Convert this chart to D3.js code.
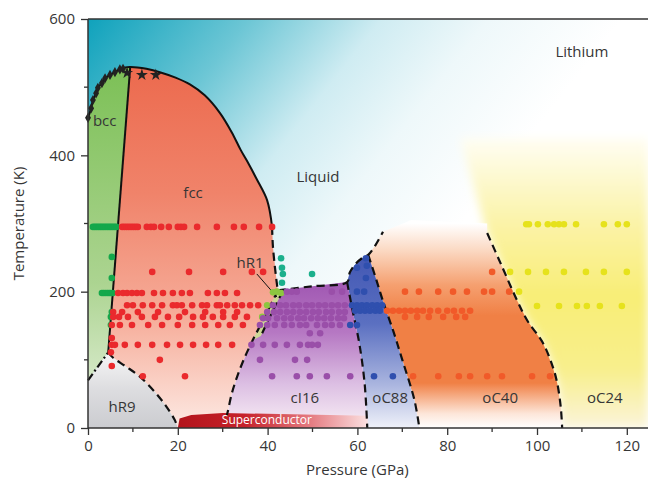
<!doctype html>
<html>
<head>
<meta charset="UTF-8">
<script src="https://cdnjs.cloudflare.com/ajax/libs/d3/7.8.5/d3.min.js"></script>
<style>
  body { margin: 0; background: #fff; }
  text { font-family: 'Open Sans', 'Noto Sans', sans-serif; fill: #363636; }
</style>
</head>
<body>
<svg id="chart" width="648" height="481"></svg>
<script>

// axis ticks
var xTicks = [0, 20, 40, 60, 80, 100, 120];
var xMinor = [10, 30, 50, 70, 90, 110];
var yTicks = [0, 200, 400, 600];
var yMinor = [100, 300, 500];

// phase boundaries [pressure GPa, temperature K]
var meltCurve = [[0,455],[0.7,469],[1.1,481],[1.8,491],[2.2,499],[3.1,506],[3.8,513],[4.9,518],[6,522],[7.1,526],[8.3,529],[9.4,529.5],
  [11,529],[13,527],[16,522],[19.5,514],[22.7,504],[26,488],[29.4,462],[32,434],[34,408],[35.4,392],[37.5,366],[39.9,334],[41,295]];
var meltDashed = [[41,295],[41.2,265],[42.1,210],[42.3,202]];
var liquidLine = [[42.3,202],[50,208],[57.7,214],[58.3,228],[59.5,240],[61,249],[62.4,254],[64,268],[65.7,288]];
var bccFcc = [[9.4,529.5],[4.5,111]];
var hR9Left = [[0,70],[4.5,111]];
var hR9Dash = [[4.5,111],[5.6,103],[8.5,90],[11.6,75],[15,52],[17.5,31],[19.3,12],[19.8,4]];
var cI16Left = [[42.3,202],[39.5,165],[36.7,129],[34.8,102],[33.2,75],[32,50],[31.2,26],[30.9,18]];
var hR1Right = [[43.4,201],[41,170],[38.5,135]];
var oC88Left = [[57.7,214],[58.9,173],[60.4,125],[61.6,66],[62.2,0]];
var oC88Right = [[62.4,254],[64,222],[65.6,188],[68,142],[70,100],[72.7,41],[73.8,0]];
var oC24Line = [[88.9,286],[92,240],[95.5,188],[97.8,158],[101.3,125],[103.5,90],[104.5,66],[105.3,30],[105.6,0]];
var scBar = [[20,0],[20.4,14],[23,19],[30,22],[62.3,18],[62.3,0]];
var hR1Leader = [[37.6,226],[42.1,192]];

// measured points: [temperature, [pressures]]
var bccRows = [[295,[1.1,1.5,1.9,2.3,2.7,3.1,3.5,3.9,4.3,4.7,5.1,5.5,5.9,6.3]],[198,[3.1,3.5,3.9,4.3,4.7,5.1,5.5]],
  [251,[5.3]],[220,[5.3]],[170,[5.3]],[163,[5.1]],[151,[5.1]]];
var fccRows = [
  [295,[7.6,8.1,8.6,9.1,9.6,10.1,10.6,11.1,13.1,14.0,14.7,16.3,18.0,20.0,20.7,21.4,24.3,28.7,32.5,34.7,38.1,41.0]],
  [229,[14.3,22.5,30.1,36.5,39.0]],
  [198,[6.7,7.8,8.7,9.8,10.9,12.0,14.7,16.7,18.9,20.9,22.7,26.7,28.7,30.5,33.2]],
  [180,[8.7,10.0,12.2,14.3,16.5,18.9,19.8,20.9,23.2,25.4,26.5,28.7,29.4,31.0,32.7,34.3,36.1,37.9]],
  [170,[5.6,7.6,11.1,15.6,21.6,26.1,30.1,33.2]],
  [163,[5.6,6.9,8.9,12.0,14.9,17.8,20.3,23.4,25.6,27.8,30.1,32.7,35.4]],
  [151,[5.3,7.1,9.8,13.4,16.5,20.0,23.2,26.1,29.0,31.6,34.5]],
  [132,[5.3]],
  [122,[5.3,6.0,8.2,11.1,14.3,17.6,20.5,23.4,26.3,29.0,32.1]],
  [111,[5.1]],[100,[16.0]],[91,[5.3]],[76,[12.2,21.6]]];
var hR1Pts = [[41.2,199],[42.1,200],[43.0,198],[39.9,180],[38.8,163]];
var liquidPts = [[43.0,249],[43.2,235],[43.4,226],[43.2,213],[49.9,226]];
var cI16Rows = [
  [200,[44.3,45.4,46.5,54.3,56.6]],
  [180,[41.2,42.8,44.1,45.7,47.0,48.6,49.9,51.4,52.8,54.3,55.7,57.2]],
  [170,[39.9,41.4,42.8,44.3,45.7,47.2,48.6,50.1,51.4,53.0,54.3,55.9,57.2]],
  [161,[39.0,40.1,42.1,43.7,45.2,46.8,48.1,49.7,51.2,52.6,54.1,55.7,57.0]],
  [151,[38.3,39.9,41.6,43.7,45.4,47.2,48.6,51.0,52.8,54.3,56.1]],
  [139,[49.4,51.7]],
  [122,[36.4,39.0,41.6,44.3,47.2,49.0,49.9,51.2]],
  [100,[38.3,46.1,48.8]],
  [76,[41.0,46.5,49.4,53.2,58.4]]];
var oC88Pts = [[61.9,249],[59.9,235],[62.1,238],[61.9,220],[59.9,200],[61.5,200]];
var oC88Rows = [[180,[58.8,59.9,61.0,62.1,63.3,64.4,65.5]],[172,[59.5,60.6,61.7,62.8,64.0,65.0]],[151,[58.4,59.9]],[76,[63.7,67.9]]];
var oC40Rows = [
  [229,[90.0]],
  [200,[70.6,73.7,78.0,81.3,84.4,88.2,90.0,93.8]],
  [172,[66.6,67.9,69.3,70.6,71.9,73.3,74.6,76.2,78.0,80.0,81.5,83.3,85.1]],
  [163,[70.6,73.3,75.9,79.1,82.0,84.0]],
  [76,[72.4,78.0,82.6,85.1,88.9,92.2,98.9,102.9]]];
var oC24Rows = [
  [299,[97.6,98.2,100.2,102.4,103.8,104.9,106.0,108.7,114.9,118.0,120.0]],
  [229,[94.0,98.0,102.0,106.0,110.9,114.9,120.0]],
  [200,[96.0]],
  [179,[100.0,104.9,108.9,111.1,114.0,118.9]]];
var diamonds = [[0,455],[0.7,469],[1.1,481],[1.8,491],[2.2,499],[3.1,506],[3.8,513],[4.9,518],[6.0,522],[7.1,526],[7.8,527]];
var stars = [[8.7,521],[12.0,518],[15.1,518]];

// phase labels [text, P, T, anchor]
var labels = [["bcc",1.1,443,"start"],["fcc",23.4,337,"middle"],["Liquid",51.2,361,"middle"],["hR1",36.1,235,"middle"],
  ["hR9",7.6,23,"middle"],["cI16",48.3,37,"middle"],["oC88",67.3,37,"middle"],["oC40",91.8,37,"middle"],
  ["oC24",115.1,37,"middle"],["Lithium",110,544,"middle"]];

var margin = {top: 19, left: 88};
var width = 560, height = 409;

var x = d3.scaleLinear().domain([0, 124.72]).range([0, width]);
var y = d3.scaleLinear().domain([0, 600]).range([height, 0]);

var svg = d3.select("#chart");
var defs = svg.append("defs");
var g = svg.append("g").attr("transform", "translate(" + margin.left + "," + margin.top + ")");

defs.append("clipPath").attr("id", "plotClip")
  .append("rect").attr("width", width).attr("height", height);
defs.append("filter").attr("id", "soft").attr("x", "-10%").attr("y", "-10%").attr("width", "120%").attr("height", "120%")
  .append("feGaussianBlur").attr("stdDeviation", 5);

function grad(id, x1, y1, x2, y2, stops) {
  var lg = defs.append("linearGradient").attr("id", id).attr("gradientUnits", "userSpaceOnUse")
    .attr("x1", x1).attr("y1", y1).attr("x2", x2).attr("y2", y2);
  stops.forEach(function(s) {
    lg.append("stop").attr("offset", s[0]).attr("stop-color", s[1]).attr("stop-opacity", s.length > 2 ? s[2] : 1);
  });
}
function vgrad(id, t0, t1, stops) { grad(id, 0, y(t0), 0, y(t1), stops); }

grad("gLiquid", 0, 0, 330, 260, [[0,"#0fa2bc"],[0.3,"#6cc6d5"],[0.55,"#cfecf2"],[0.75,"#eef8fa"],[1,"#ffffff"]]);
vgrad("gBcc", 530, 0, [[0,"#7cc056"],[0.6,"#acd491"],[1,"#e9f2e1"]]);
vgrad("gFcc", 530, 0, [[0,"#ec6a4e"],[0.35,"#f0836a"],[0.7,"#f6ae9b"],[1,"#fde9e3"]]);
vgrad("gHR9", 110, 0, [[0,"#f6f6f6"],[0.5,"#dcdcdf"],[1,"#cbccd0"]]);
vgrad("gCI16", 215, 0, [[0,"#a057b2"],[0.35,"#b678c3"],[0.7,"#dcbfe3"],[1,"#f9eff5"]]);
vgrad("gOC88", 255, 0, [[0,"#4257b3"],[0.4,"#5b70c1"],[0.75,"#aab5df"],[1,"#eff1f9"]]);
vgrad("gOC40", 300, 0, [[0,"#ffffff"],[0.13,"#fbd9c3"],[0.3,"#f5a070"],[0.45,"#f08045"],[0.78,"#f08045"],[0.93,"#fde6d9"],[1,"#ffffff"]]);
vgrad("gOC24", 430, 0, [[0,"#fffef6"],[0.3,"#fbf3a8"],[0.55,"#f8ee76"],[0.8,"#f8ef8c"],[1,"#faf4da"]]);
grad("gSC", x(20), 0, x(62.3), 0, [[0,"#b3131b"],[0.35,"#c6222a"],[0.7,"#e57c82"],[1,"#fbe0e0"]]);

var line = d3.line().x(d => x(d[0])).y(d => y(d[1]));
var smooth = d3.line().x(d => x(d[0])).y(d => y(d[1])).curve(d3.curveCatmullRom.alpha(0.5));

function rows(r) {
  var out = [];
  r.forEach(function(row) { row[1].forEach(function(p) { out.push([p, row[0]]); }); });
  return out;
}
function idx(arr, p) { return arr.findIndex(d => d[0] === p); }

// region polygons built from the boundaries
var peak = idx(meltCurve, 9.4);
var iA = idx(liquidLine, 57.7), iB = idx(liquidLine, 62.4);
var bccPoly = meltCurve.slice(0, peak + 1).concat([[4.5,111],[0,70]]);
var fccPoly = meltCurve.slice(peak).concat(meltDashed.slice(1), cI16Left.slice(1), [[30.9,0],[20,0]], hR9Dash.slice().reverse());
var hR9Poly = [[0,0]].concat(hR9Left, hR9Dash.slice(1), [[20,0]]);
var cI16Poly = liquidLine.slice(0, iA + 1).concat(oC88Left.slice(1), [[30.9,0]], cI16Left.slice().reverse());
var oC88Poly = liquidLine.slice(iA, iB + 1).concat(oC88Right.slice(1), oC88Left.slice().reverse());
var oC40Poly = liquidLine.slice(iB).concat([[72,305],[88.9,300]], oC24Line, oC88Right.slice().reverse());
var oC24Poly = [[82.9,425],[124.72,425],[124.72,0]].concat(oC24Line.slice().reverse());
var hR1Poly = [[42.3,202],[43.4,201],[41,170],[38.5,135],[36.7,129],[39.5,165]];

var fills = g.append("g").attr("clip-path", "url(#plotClip)");
fills.append("rect").attr("width", width).attr("height", height).attr("fill", "url(#gLiquid)");
fills.append("path").attr("d", line(oC24Poly) + "Z").attr("fill", "url(#gOC24)").attr("filter", "url(#soft)");
fills.append("path").attr("d", line(oC40Poly) + "Z").attr("fill", "url(#gOC40)");
fills.append("path").attr("d", line(oC88Poly) + "Z").attr("fill", "url(#gOC88)");
fills.append("path").attr("d", line(cI16Poly) + "Z").attr("fill", "url(#gCI16)");
fills.append("path").attr("d", line(fccPoly) + "Z").attr("fill", "url(#gFcc)");
fills.append("path").attr("d", line(bccPoly) + "Z").attr("fill", "url(#gBcc)");
fills.append("path").attr("d", line(hR9Poly) + "Z").attr("fill", "url(#gHR9)");
fills.append("path").attr("d", line(hR1Poly) + "Z").attr("fill", "#cfe390").attr("opacity", 0.9);
fills.append("path").attr("d", line(scBar) + "Z").attr("fill", "url(#gSC)");

// boundaries
var dash = "8,5";
function bound(data, gen, style) {
  g.append("path").attr("d", gen(data)).attr("fill", "none").attr("stroke", "#111")
    .attr("stroke-width", style.w || 2.2).attr("stroke-dasharray", style.dash || null);
}
bound(meltCurve, smooth, {w: 2});
bound(bccFcc, line, {w: 2});
bound(meltDashed, smooth, {dash: dash});
bound(liquidLine, smooth, {dash: dash});
bound(hR9Left, line, {dash: "8,3,2,3"});
bound(hR9Dash, smooth, {dash: dash});
bound(cI16Left, smooth, {dash: dash});
bound(hR1Right, smooth, {dash: dash});
bound(oC88Left, smooth, {dash: dash});
bound(oC88Right, smooth, {dash: dash});
bound(oC24Line, smooth, {dash: dash});
bound(hR1Leader, line, {w: 1});

// measured points
function dots(data, color) {
  g.append("g").selectAll("circle").data(data).enter().append("circle")
    .attr("cx", d => x(d[0])).attr("cy", d => y(d[1])).attr("r", 3.3).attr("fill", color);
}
dots(rows(bccRows), "#14a84b");
dots(rows(fccRows), "#ea2a2d");
dots(hR1Pts, "#8cc63f");
dots(liquidPts, "#1bb08c");
dots(rows(cI16Rows), "#9a4fa9");
dots(oC88Pts.concat(rows(oC88Rows)), "#2f4fae");
dots(rows(oC40Rows), "#f15a29");
dots(rows(oC24Rows), "#e6e21c");

g.append("g").selectAll("path").data(diamonds).enter().append("path")
  .attr("d", d3.symbol().type(d3.symbolDiamond).size(30))
  .attr("transform", d => "translate(" + x(d[0]) + "," + y(d[1]) + ")").attr("fill", "#222");
g.append("g").selectAll("path").data(stars).enter().append("path")
  .attr("d", d3.symbol().type(d3.symbolStar).size(45))
  .attr("transform", d => "translate(" + x(d[0]) + "," + y(d[1]) + ")").attr("fill", "#222");

// labels
g.append("g").selectAll("text").data(labels).enter().append("text")
  .attr("x", d => x(d[1])).attr("y", d => y(d[2]))
  .attr("text-anchor", d => d[3])
  .style("font-size", "15px")
  .text(d => d[0]);
g.append("text")
  .attr("x", x(29.8)).attr("y", y(6))
  .style("font-size", "12px").style("fill", "#fff")
  .text("Superconductor");

// axes
var xAxis = g.append("g").attr("transform", "translate(0," + height + ")")
  .call(d3.axisBottom(x).tickValues(xTicks).tickSize(7).tickPadding(5));
var yAxis = g.append("g")
  .call(d3.axisLeft(y).tickValues(yTicks).tickSize(7).tickPadding(6));
[xAxis, yAxis].forEach(function(a) {
  a.select(".domain").remove();
  a.selectAll("line").attr("stroke", "#333").attr("stroke-width", 1.3);
  a.selectAll("text").style("font-size", "15px").style("font-family", "'Open Sans', sans-serif").attr("fill", "#363636");
});
xAxis.selectAll(".minor").data(xMinor).enter().append("line")
  .attr("x1", d => x(d)).attr("x2", d => x(d)).attr("y1", 0).attr("y2", 4)
  .attr("stroke", "#333").attr("stroke-width", 1.3);
yAxis.selectAll(".minor").data(yMinor).enter().append("line")
  .attr("y1", d => y(d)).attr("y2", d => y(d)).attr("x1", 0).attr("x2", -4)
  .attr("stroke", "#333").attr("stroke-width", 1.3);

g.append("line").attr("x1", 0).attr("x2", width).attr("y1", height).attr("y2", height).attr("stroke", "#333").attr("stroke-width", 1.5);
g.append("line").attr("x1", 0).attr("x2", width).attr("y1", 0).attr("y2", 0).attr("stroke", "#333").attr("stroke-width", 1.5);
g.append("line").attr("x1", 0).attr("x2", 0).attr("y1", 0).attr("y2", height).attr("stroke", "#333").attr("stroke-width", 1.5);

// axis titles
svg.append("text")
  .attr("x", margin.left + x(60)).attr("y", 475)
  .attr("text-anchor", "middle")
  .style("font-size", "15px")
  .text("Pressure (GPa)");
svg.append("text")
  .attr("text-anchor", "middle")
  .attr("transform", "translate(24," + (margin.top + y(300)) + ")rotate(-90)")
  .style("font-size", "15px")
  .text("Temperature (K)");

</script>
</body>
</html>
